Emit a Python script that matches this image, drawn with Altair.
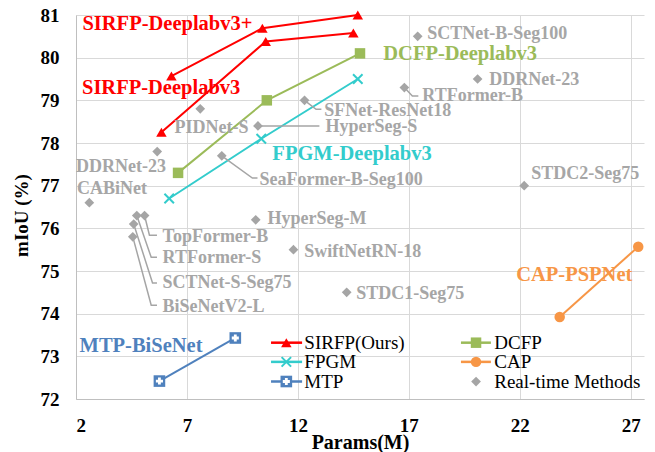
import altair as alt
import pandas as pd

FONT = "Liberation Serif"

# ---------------- data ----------------
sirfp_plus_x = [6.3, 10.4, 14.7]
sirfp_plus_y = [79.57, 80.69, 81.0]
sirfp_x = [5.85, 10.55, 14.5]
sirfp_y = [78.25, 80.38, 80.58]
dcfp_x = [6.6, 10.6, 14.8]
dcfp_y = [77.3, 79.0, 80.1]
fpgm_x = [6.2, 10.35, 14.7]
fpgm_y = [76.7, 78.1, 79.5]
cap_x = [23.8, 27.34]
cap_y = [73.92, 75.57]
mtp_x = [5.76, 9.18]
mtp_y = [72.42, 73.43]

rt_names = ["PIDNet-S", "DDRNet-23", "CABiNet", "HyperSeg-S", "SFNet-ResNet18",
            "SeaFormer-B-Seg100", "SCTNet-B-Seg100", "RTFormer-B", "DDRNet-23 ",
            "STDC2-Seg75", "HyperSeg-M", "SwiftNetRN-18", "STDC1-Seg75",
            "TopFormer-B", "RTFormer-S", "SCTNet-S-Seg75", "BiSeNetV2-L"]
rt_x = [7.6, 5.66, 2.6, 10.2, 12.3, 8.57, 17.4, 16.8, 20.1, 22.2, 10.1, 11.8,
        14.2, 5.09, 4.74, 4.6, 4.56]
rt_y = [78.8, 77.8, 76.6, 78.4, 79.0, 77.7, 80.5, 79.3, 79.5, 77.0, 76.2, 75.5,
        74.5, 76.3, 76.3, 76.1, 75.8]
rt_label_x = [6.44, 2.0, 2.05, 13.24, 13.19, 10.27, 17.83, 17.61, 20.63, 22.52,
              10.63, 12.29, 14.63, 5.9, 5.9, 5.9, 5.9]
rt_label_y = [78.35, 77.44, 76.93, 78.37, 78.75, 77.14, 80.55, 79.10, 79.48,
              77.27, 76.22, 75.45, 74.46, 75.80, 75.30, 74.71, 74.16]

leader_names = ["TopFormer-B", "RTFormer-S", "SCTNet-S-Seg75", "BiSeNetV2-L",
                "SeaFormer-B-Seg100", "SFNet-ResNet18", "HyperSeg-S", "RTFormer-B"]
leader_x = [[5.09, 5.31, 5.65], [4.74, 5.39, 5.65], [4.6, 5.45, 5.65], [4.56, 5.39, 5.65],
            [8.57, 9.95, 10.18], [12.3, 12.82, 13.06], [10.2, 12.97], [16.8, 17.16, 17.43]]
leader_y = [[76.3, 75.84, 75.84], [76.3, 75.32, 75.32], [76.1, 74.72, 74.72],
            [75.8, 74.2, 74.2], [77.7, 77.18, 77.18], [79.0, 78.79, 78.79],
            [78.4, 78.4], [79.3, 79.1, 79.1]]

big_labels = ["SIRFP-Deeplabv3+", "SIRFP-Deeplabv3", "DCFP-Deeplabv3",
              "FPGM-Deeplabv3", "CAP-PSPNet", "MTP-BiSeNet"]
big_label_x = [2.29, 2.27, 15.85, 10.85, 21.84, 2.16]
big_label_y = [80.79, 79.28, 80.08, 77.74, 74.91, 73.25]
big_colors = ["#FF0000", "#FF0000", "#9BBB59", "#33CCCC", "#F79646", "#4F81BD"]

legend_names = ["SIRFP(Ours)", "DCFP", "FPGM", "CAP", "MTP", "Real-time Methods"]
legend_x0 = [10.79, 19.35, 10.79, 19.35, 10.79, 19.35]
legend_x1 = [12.19, 20.70, 12.19, 20.70, 12.19, 20.70]
legend_xm = [11.48, 20.03, 11.48, 20.03, 11.48, 20.03]
legend_xt = [12.29, 20.85, 12.29, 20.85, 12.29, 20.85]
legend_y = [73.32, 73.32, 72.87, 72.87, 72.41, 72.41]

x_ticks = [2, 7, 12, 17, 22, 27]
y_ticks = [72, 73, 74, 75, 76, 77, 78, 79, 80, 81]

x_axis = alt.Axis(values=x_ticks, title="Params(M)", grid=True, gridColor="#D9D9D9",
                  domainColor="#BFBFBF", ticks=False, labelFont=FONT, labelFontSize=19,
                  labelFontWeight="bold", labelColor="black", labelPadding=17,
                  titleFont=FONT, titleFontSize=20, titleFontWeight="bold",
                  titleColor="black", titlePadding=-3)
y_axis = alt.Axis(values=y_ticks, title="mIoU (%)", grid=True, gridColor="#D9D9D9",
                  domainColor="#BFBFBF", ticks=False, labelFont=FONT, labelFontSize=19,
                  labelFontWeight="bold", labelColor="black", labelPadding=17,
                  titleFont=FONT, titleFontSize=19, titleFontWeight="bold",
                  titleColor="black", titlePadding=9, titleY=200)
xs = alt.Scale(domain=[2, 27.6], nice=False, zero=False)
ys = alt.Scale(domain=[72, 81], nice=False, zero=False)


def X(f):
    return alt.X(f"{f}:Q", scale=xs, axis=x_axis)


def Y(f):
    return alt.Y(f"{f}:Q", scale=ys, axis=y_axis)


def series(xv, yv, color, shape, size, filled=True, stroke_w=1):
    df = pd.DataFrame({"x": xv, "y": yv, "o": list(range(len(xv)))})
    line = alt.Chart(df).mark_line(color=color, strokeWidth=2, clip=False).encode(
        x=X("x"), y=Y("y"), order="o:Q")
    pts = alt.Chart(df).mark_point(shape=shape, size=size, filled=filled, color=color,
                                   opacity=1, strokeWidth=stroke_w, clip=False).encode(
        x=X("x"), y=Y("y"))
    return [line, pts]


XSHAPE = "M-1,-1L1,1M-1,1L1,-1"

layers = []
layers += series(sirfp_plus_x, sirfp_plus_y, "#FF0000", "triangle-up", 110)
layers += series(sirfp_x, sirfp_y, "#FF0000", "triangle-up", 110)
layers += series(dcfp_x, dcfp_y, "#9BBB59", "square", 110)
layers += series(fpgm_x, fpgm_y, "#33CCCC", XSHAPE, 90, filled=False, stroke_w=2)
layers += series(cap_x, cap_y, "#F79646", "circle", 110)
layers += series(mtp_x, mtp_y, "#4F81BD", "square", 135)
mtp_df = pd.DataFrame({"x": mtp_x, "y": mtp_y})
layers.append(alt.Chart(mtp_df).mark_point(shape="cross", size=50, filled=True,
                                           color="white", opacity=1, clip=False).encode(
    x=X("x"), y=Y("y")))

rows = []
for n, lx, ly in zip(leader_names, leader_x, leader_y):
    for i, (a, b) in enumerate(zip(lx, ly)):
        rows.append({"name": n, "x": a, "y": b, "o": i})
lead_df = pd.DataFrame(rows)
layers.append(alt.Chart(lead_df).mark_line(color="#A5A5A5", strokeWidth=1.5, clip=False).encode(
    x=X("x"), y=Y("y"), detail="name:N", order="o:Q"))

rt_df = pd.DataFrame({"name": rt_names, "x": rt_x, "y": rt_y,
                      "lx": rt_label_x, "ly": rt_label_y})
layers.append(alt.Chart(rt_df).mark_point(shape="diamond", size=95, filled=True,
                                          color="#A5A5A5", opacity=1, clip=False).encode(
    x=X("x"), y=Y("y")))
layers.append(alt.Chart(rt_df).mark_text(font=FONT, fontSize=18, fontWeight="bold",
                                         color="#A6A6A6", align="left", baseline="middle",
                                         clip=False).encode(
    x=X("lx"), y=Y("ly"), text="name:N"))

big_df = pd.DataFrame({"t": big_labels, "x": big_label_x, "y": big_label_y, "c": big_colors})
layers.append(alt.Chart(big_df).mark_text(font=FONT, fontSize=20.5, fontWeight="bold",
                                          align="left", baseline="middle", clip=False).encode(
    x=X("x"), y=Y("y"), text="t:N", color=alt.Color("c:N", scale=None)))

leg_colors = ["#FF0000", "#9BBB59", "#33CCCC", "#F79646", "#4F81BD", "#A5A5A5"]
leg_df = pd.DataFrame({"t": legend_names, "x0": legend_x0, "x1": legend_x1,
                       "xm": legend_xm, "xt": legend_xt, "y": legend_y, "c": leg_colors})
line_df = leg_df.iloc[:5]
layers.append(alt.Chart(line_df).mark_rule(strokeWidth=2.5).encode(
    x=X("x0"), x2="x1:Q", y=Y("y"), color=alt.Color("c:N", scale=None)))
leg_marks = [("triangle-up", 0, 110, True), ("square", 1, 110, True), (XSHAPE, 2, 90, False),
             ("circle", 3, 110, True), ("square", 4, 135, True), ("diamond", 5, 95, True)]
for shp, idx, sz, fl in leg_marks:
    layers.append(alt.Chart(leg_df.iloc[[idx]]).mark_point(
        shape=shp, size=sz, filled=fl, opacity=1, strokeWidth=2, color=leg_colors[idx]).encode(
        x=X("xm"), y=Y("y")))
layers.append(alt.Chart(leg_df.iloc[[4]]).mark_point(shape="cross", size=50, filled=True,
                                                    color="white", opacity=1).encode(
    x=X("xm"), y=Y("y")))
layers.append(alt.Chart(leg_df).mark_text(font=FONT, fontSize=19, align="left",
                                          baseline="middle", color="black").encode(
    x=X("xt"), y=Y("y"), text="t:N"))

chart = alt.layer(*layers).properties(
    width=568, height=384,
    autosize=alt.AutoSizeParams(type="none"),
    padding={"left": 68, "top": 7, "right": 2, "bottom": 55},
).configure_view(stroke=None)

chart.save("out.html", embed_options={"renderer": "svg", "actions": False})
